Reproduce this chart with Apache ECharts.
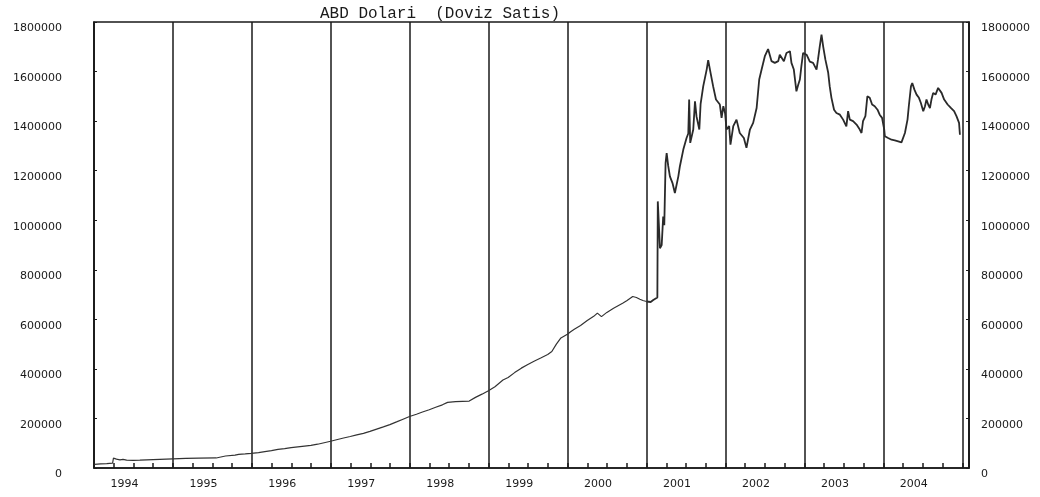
<!DOCTYPE html>
<html>
<head>
<meta charset="utf-8">
<script src="https://cdn.jsdelivr.net/npm/echarts@6/dist/echarts.min.js"></script>
<style>html,body{margin:0;padding:0;background:#fff}#c{width:1040px;height:497px}</style>
</head>
<body>
<div id="c"></div>
<script>
const chartTitle = 'ABD Dolari  (Doviz Satis)';
const yearLabels = ['1994','1995','1996','1997','1998','1999','2000','2001','2002','2003','2004'];
const yTicks = [0,200000,400000,600000,800000,1000000,1200000,1400000,1600000,1800000];

// 1994 - 2000 (approx. monthly)
const rates1994to2000 = [
 ['1994-01-03',15000],['1994-02-01',17000],['1994-03-01',18000],['1994-03-28',19500],
 ['1994-04-01',40000],['1994-04-08',41500],['1994-04-15',36000],['1994-04-22',38000],
 ['1994-05-01',33000],['1994-05-15',35000],['1994-06-01',32000],['1994-07-01',31000],
 ['1994-08-01',31500],['1994-09-01',33000],['1994-10-01',34000],['1994-11-01',35000],['1994-12-01',36000],
 ['1995-01-01',37000],['1995-03-01',38500],['1995-05-01',39500],['1995-07-20',40500],['1995-07-28',47000],
 ['1995-09-01',48500],['1995-10-15',52000],['1995-11-01',55000],['1995-12-01',57000],['1995-12-29',59000],
 ['1996-02-01',62000],['1996-03-01',66000],['1996-04-01',70000],['1996-05-01',75000],['1996-06-01',78000],
 ['1996-07-01',82000],['1996-08-01',85000],['1996-09-01',88000],['1996-10-01',91000],['1996-11-01',96000],
 ['1996-12-01',102000],['1996-12-31',108000],
 ['1997-02-01',115000],['1997-03-01',121000],['1997-04-01',127000],['1997-05-01',134000],['1997-06-01',140000],
 ['1997-07-01',148000],['1997-08-01',157000],['1997-09-01',166000],['1997-10-01',175000],['1997-11-01',186000],
 ['1997-12-01',197000],['1997-12-31',208000],
 ['1998-02-01',217000],['1998-03-01',226000],['1998-04-01',235000],['1998-05-01',245000],['1998-06-01',255000],
 ['1998-06-25',265000],['1998-08-01',268000],['1998-10-03',270000],['1998-11-01',285000],['1998-12-01',298000],
 ['1998-12-31',312000],
 ['1999-01-30',328000],['1999-03-08',355000],['1999-04-01',365000],['1999-05-01',385000],['1999-06-01',403000],
 ['1999-07-01',418000],['1999-08-01',432000],['1999-09-01',445000],['1999-10-01',458000],['1999-10-20',470000],
 ['1999-11-10',500000],['1999-12-01',525000],['1999-12-31',540000],
 ['2000-01-15',550000],['2000-02-01',560000],['2000-03-01',575000],['2000-04-01',595000],['2000-05-01',612000],
 ['2000-05-18',625000],['2000-06-06',611000],['2000-07-01',628000],['2000-08-01',645000],['2000-09-12',665000],
 ['2000-10-01',675000],['2000-10-29',692000],['2000-11-15',688000],['2000-12-01',681000],['2000-12-15',676000]
];

// 2001 - 2004 (after the float)
const rates2001to2004 = [
 ['2001-01-01',672000],['2001-01-20',670000],['2001-02-01',678000],['2001-02-10',685000],['2001-02-20',688000],
 ['2001-02-22',1076000],['2001-03-04',887000],['2001-03-12',900000],['2001-03-19',1015000],['2001-03-24',980000],
 ['2001-03-30',1231000],['2001-04-04',1271000],['2001-04-11',1220000],['2001-04-19',1177000],['2001-05-01',1150000],
 ['2001-05-12',1110000],['2001-05-28',1177000],['2001-06-04',1217000],['2001-06-20',1285000],['2001-07-05',1332000],
 ['2001-07-13',1350000],['2001-07-17',1487000],['2001-07-22',1312000],['2001-08-05',1366000],['2001-08-13',1480000],
 ['2001-08-20',1419000],['2001-09-02',1366000],['2001-09-08',1470000],['2001-09-20',1540000],['2001-10-06',1608000],
 ['2001-10-13',1646000],['2001-10-24',1595000],['2001-11-05',1540000],['2001-11-18',1487000],['2001-12-06',1467000],
 ['2001-12-14',1413000],['2001-12-22',1460000],['2001-12-30',1433000],
 ['2002-01-06',1366000],['2002-01-18',1380000],['2002-01-24',1305000],['2002-02-06',1380000],['2002-02-21',1406000],
 ['2002-03-08',1352000],['2002-03-27',1332000],['2002-04-08',1292000],['2002-04-24',1366000],['2002-05-09',1393000],
 ['2002-05-25',1453000],['2002-06-06',1568000],['2002-06-17',1608000],['2002-07-02',1662000],['2002-07-17',1691000],
 ['2002-07-25',1685000],['2002-08-02',1642000],['2002-08-17',1635000],['2002-09-02',1642000],['2002-09-09',1668000],
 ['2002-09-17',1662000],['2002-09-28',1642000],['2002-10-10',1675000],['2002-10-26',1682000],['2002-11-02',1635000],
 ['2002-11-13',1608000],['2002-11-25',1520000],['2002-12-03',1546000],['2002-12-11',1568000],['2002-12-18',1622000],
 ['2002-12-26',1675000],
 ['2003-01-01',1682000],['2003-01-11',1668000],['2003-01-26',1640000],['2003-02-10',1635000],['2003-02-26',1608000],
 ['2003-03-05',1650000],['2003-03-13',1702000],['2003-03-21',1749000],['2003-03-29',1700000],['2003-04-08',1648000],
 ['2003-04-21',1595000],['2003-04-28',1540000],['2003-05-06',1494000],['2003-05-18',1446000],['2003-05-29',1433000],
 ['2003-06-14',1426000],['2003-06-29',1406000],['2003-07-14',1379000],['2003-07-22',1440000],['2003-07-30',1406000],
 ['2003-08-14',1400000],['2003-08-30',1386000],['2003-09-14',1366000],['2003-09-22',1352000],['2003-09-29',1400000],
 ['2003-10-10',1420000],['2003-10-19',1500000],['2003-10-30',1494000],['2003-11-10',1467000],['2003-11-22',1460000],
 ['2003-12-05',1446000],['2003-12-15',1426000],['2003-12-26',1413000],
 ['2004-01-05',1366000],['2004-01-08',1339000],['2004-01-23',1332000],['2004-02-08',1325000],['2004-02-23',1322000],
 ['2004-03-10',1318000],['2004-03-25',1314000],['2004-04-02',1310000],['2004-04-10',1352000],['2004-04-22',1406000],
 ['2004-04-28',1460000],['2004-05-08',1540000],['2004-05-14',1554000],['2004-05-24',1527000],['2004-06-03',1507000],
 ['2004-06-14',1494000],['2004-06-23',1473000],['2004-07-04',1440000],['2004-07-12',1460000],['2004-07-19',1487000],
 ['2004-07-27',1467000],['2004-08-04',1453000],['2004-08-11',1487000],['2004-08-19',1514000],['2004-08-30',1507000],
 ['2004-09-11',1534000],['2004-09-27',1514000],['2004-10-09',1487000],['2004-10-25',1467000],['2004-11-09',1453000],
 ['2004-11-24',1440000],['2004-12-05',1420000],['2004-12-13',1426000],['2004-12-17',1393000],['2004-12-21',1345000]
];

function toYear(s){
  const p = s.split('-').map(Number);
  const start = Date.UTC(p[0],0,1), end = Date.UTC(p[0]+1,0,1);
  return p[0] + (Date.UTC(p[0],p[1]-1,p[2]) - start)/(end - start);
}
const toPoint = d => [toYear(d[0]), d[1]];
const earlyData = rates1994to2000.concat([rates2001to2004[0]]).map(toPoint);
const lateData = rates2001to2004.map(toPoint);

const firstYear = Number(yearLabels[0]);
const xMax = 2005.085;
const numFont = 'DejaVu Sans';
const ink = '#1a1a1a';

const chart = echarts.init(document.getElementById('c'), null, {renderer:'canvas'});
chart.setOption({
  animation:false,
  backgroundColor:'#fff',
  title:{
    text: chartTitle, left: 315, top: 1,
    textStyle:{fontFamily:'Liberation Mono', fontSize:16, fontWeight:'normal', color:ink}
  },
  grid:{left:94, right:71, top:22, bottom:29, show:true, borderColor:ink, borderWidth:1.5, containLabel:false},
  xAxis:[{
    type:'value', min:firstYear, max:xMax, interval:0.25,
    axisLine:{show:true, lineStyle:{color:ink, width:1.5}},
    axisTick:{show:true, inside:true, length:5, lineStyle:{color:ink, width:1.5}},
    splitLine:{show:false},
    axisLabel:{
      show:true, margin:11, fontFamily:numFont, fontSize:11, color:ink, padding:[0,18,0,0],
      showMinLabel:true, showMaxLabel:false,
      formatter:function(v){
        const y = Math.floor(v + 1e-6);
        return (Math.abs(v - y - 0.5) < 1e-4 && yearLabels.indexOf(String(y)) >= 0) ? String(y) : '';
      }
    }
  },{
    type:'value', min:firstYear, max:xMax, interval:1, position:'bottom',
    axisLine:{show:false}, axisTick:{show:false}, axisLabel:{show:false},
    splitLine:{show:true, lineStyle:{color:ink, width:1.5}}
  }],
  yAxis:[{
    type:'value', min:yTicks[0], max:yTicks[yTicks.length-1], interval:yTicks[1]-yTicks[0], position:'left',
    axisLine:{show:true, lineStyle:{color:ink, width:1.5}},
    axisTick:{show:true, inside:true, length:3, lineStyle:{color:ink}},
    splitLine:{show:false},
    axisLabel:{margin:32, fontFamily:numFont, fontSize:11, lineHeight:13, color:ink, verticalAlign:'top', formatter:v=>String(v)}
  },{
    type:'value', min:yTicks[0], max:yTicks[yTicks.length-1], interval:yTicks[1]-yTicks[0], position:'right',
    axisLine:{show:true, lineStyle:{color:ink, width:1.5}},
    axisTick:{show:true, inside:true, length:3, lineStyle:{color:ink}},
    splitLine:{show:false},
    axisLabel:{margin:12, fontFamily:numFont, fontSize:11, lineHeight:13, color:ink, verticalAlign:'top', formatter:v=>String(v)}
  }],
  series:[{
    type:'line', xAxisIndex:0, yAxisIndex:0, data:earlyData,
    showSymbol:false, symbol:'none',
    lineStyle:{color:'#333', width:1.2}
  },{
    type:'line', xAxisIndex:0, yAxisIndex:0, data:lateData,
    showSymbol:false, symbol:'none',
    lineStyle:{color:'#2a2a2a', width:1.8}
  }]
});
</script>
</body>
</html>
